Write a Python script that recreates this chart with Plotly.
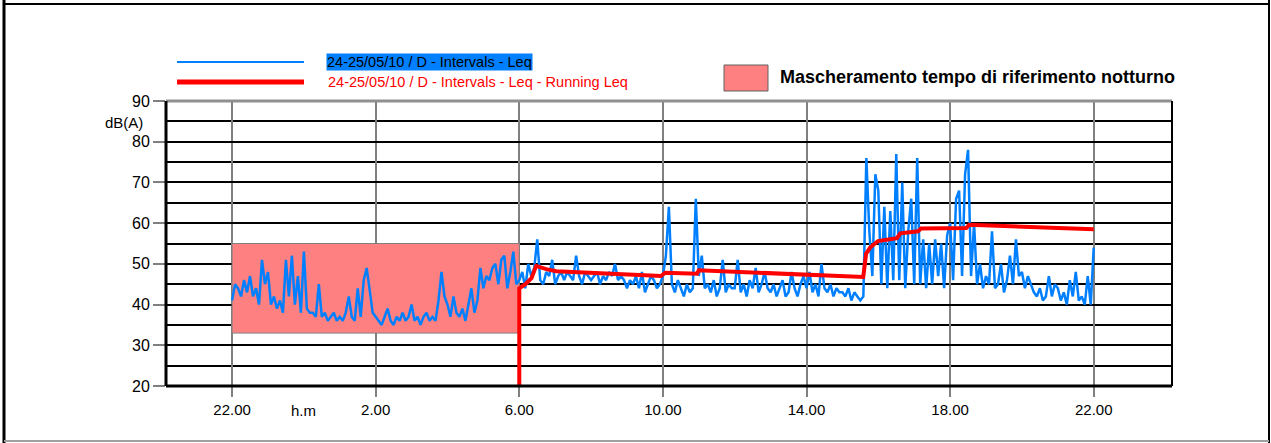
import plotly.graph_objects as go

# Leq every 5 minutes, 22.00 (24/05) -> 22.00 (25/05), one row per hour
leq = [
    41, 45, 44, 42, 46, 43, 47, 42, 44, 40, 51, 45,   # 22-23
    48, 40, 42, 39, 41, 38, 51, 42, 52, 40, 47, 38,   # 23-0
    53, 39, 38, 38, 37, 45, 37, 38, 36, 37, 38, 36,   # 0-1
    37, 36, 38, 42, 37, 36, 44, 37, 46, 49, 44, 38,   # 1-2
    37, 36, 35, 37, 39, 36, 35, 37, 36, 38, 36, 37,   # 2-3
    40, 36, 37, 35, 37, 38, 36, 37, 36, 41, 48, 42,   # 3-4
    40, 37, 42, 38, 37, 39, 36, 40, 44, 38, 41, 49,   # 4-5
    44, 47, 46, 49, 50, 45, 51, 52, 44, 48, 53, 45,   # 5-6
    46, 48, 44, 50, 47, 49, 56, 46, 45, 48, 47, 51,   # 6-7
    45, 47, 48, 46, 48, 47, 46, 52, 47, 45, 48, 47,   # 7-8
    46, 47, 48, 45, 47, 46, 48, 47, 50, 46, 47, 46,   # 8-9
    44, 46, 45, 47, 44, 48, 43, 45, 47, 46, 44, 45,   # 9-10
    47, 52, 64, 45, 43, 46, 44, 42, 45, 43, 44, 66,   # 10-11
    47, 52, 44, 45, 43, 46, 42, 44, 51, 43, 45, 44,   # 11-12
    44, 51, 43, 45, 42, 46, 44, 49, 43, 45, 48, 44,   # 12-13
    43, 45, 42, 44, 46, 42, 43, 48, 44, 42, 45, 47,   # 13-14
    44, 48, 43, 45, 42, 50, 44, 43, 45, 42, 44, 43,   # 14-15
    43, 42, 44, 41, 43, 42, 41, 42, 76, 58, 47, 72,   # 15-16
    68, 45, 64, 44, 63, 46, 77, 46, 70, 44, 58, 66,   # 16-17
    45, 76, 45, 56, 44, 55, 45, 56, 47, 55, 44, 57,   # 17-18
    60, 46, 66, 68, 47, 72, 78, 47, 60, 45, 50, 44,   # 18-19
    47, 45, 58, 44, 45, 50, 43, 46, 52, 45, 56, 47,   # 19-20
    48, 44, 47, 45, 43, 42, 44, 41, 42, 47, 42, 45,   # 20-21
    44, 41, 43, 40, 46, 42, 48, 41, 42, 40, 47, 40,   # 21-22
    54,
]

# running Leq, hours after 22.00
run_h = [8.0, 8.0, 8.17, 8.34, 8.47, 8.75, 9.03, 11.95, 12.06, 12.95, 13.0,
         17.58, 17.66, 17.77, 17.99, 18.52, 18.61, 19.11, 19.19, 20.45, 20.53, 24.0]
run_v = [20, 44, 45, 46.5, 49.5, 48.7, 48.2, 47.0, 47.8, 47.6, 48.4,
         46.8, 52.5, 54, 55.6, 56.3, 57.5, 58, 58.7, 58.8, 59.6, 58.5]

tick_h = [0, 4, 8, 12, 16, 20, 24]
tick_txt = ["22.00", "2.00", "6.00", "10.00", "14.00", "18.00", "22.00"]

leq_h = [i * 5 / 60 for i in range(len(leq))]

W, H = 1271, 443
L, R, T, B = 166, 1172, 101, 386
FONT = "Liberation Sans, Arial, sans-serif"


def px(x):
    return (x - L) / (R - L)


def py(y):
    return (B - y) / (B - T)


fig = go.Figure()
fig.add_trace(go.Scatter(x=leq_h, y=leq, mode="lines",
                         line=dict(color="#0080ff", width=2.5), showlegend=False))
fig.add_trace(go.Scatter(x=run_h, y=run_v, mode="lines",
                         line=dict(color="#ff0000", width=4), showlegend=False))

shapes = [
    # night masking band
    dict(type="rect", xref="x", yref="y", x0=0, x1=8, y0=33, y1=55, layer="between",
         fillcolor="#ff8080", line=dict(color="#808080", width=1)),
    # axes frame
    dict(type="line", xref="paper", yref="paper", x0=0, x1=1, y0=1, y1=1,
         line=dict(color="#909090", width=3)),
    dict(type="line", xref="paper", yref="paper", x0=0, x1=0, y0=0, y1=1,
         line=dict(color="black", width=3)),
    dict(type="line", xref="paper", yref="paper", x0=0, x1=1, y0=0, y1=0,
         line=dict(color="black", width=3)),
    dict(type="line", xref="paper", yref="paper", x0=1, x1=1, y0=0, y1=1,
         line=dict(color="black", width=2)),
    # outer frame
    dict(type="line", xref="paper", yref="paper", x0=px(4), x1=px(4), y0=py(0), y1=py(443),
         line=dict(color="black", width=3)),
    dict(type="line", xref="paper", yref="paper", x0=px(1269), x1=px(1269), y0=py(0), y1=py(443),
         line=dict(color="black", width=2)),
    dict(type="line", xref="paper", yref="paper", x0=px(4), x1=px(1269), y0=py(4), y1=py(4),
         line=dict(color="black", width=2)),
    dict(type="line", xref="paper", yref="paper", x0=px(4), x1=px(1269), y0=py(441), y1=py(441),
         line=dict(color="#a0a0a0", width=2)),
    # legend samples
    dict(type="line", xref="paper", yref="paper", x0=px(177), x1=px(304), y0=py(62), y1=py(62),
         line=dict(color="#0080ff", width=2)),
    dict(type="line", xref="paper", yref="paper", x0=px(177), x1=px(304), y0=py(82), y1=py(82),
         line=dict(color="#ff0000", width=5)),
    dict(type="rect", xref="paper", yref="paper", x0=px(724), x1=px(768), y0=py(91), y1=py(65),
         fillcolor="#ff8080", line=dict(color="#606060", width=1)),
]

annotations = [
    dict(text="24-25/05/10 / D - Intervals - Leq", x=px(326), y=py(62), xref="paper", yref="paper",
         xanchor="left", yanchor="middle", showarrow=False, bgcolor="#0080ff", borderpad=0,
         font=dict(family=FONT, size=14.5, color="black")),
    dict(text="24-25/05/10 / D - Intervals - Leq - Running Leq", x=px(326), y=py(82),
         xref="paper", yref="paper", xanchor="left", yanchor="middle", showarrow=False,
         font=dict(family=FONT, size=14.5, color="#ff0000")),
    dict(text="<b>Mascheramento tempo di riferimento notturno</b>", x=px(778), y=py(77),
         xref="paper", yref="paper", xanchor="left", yanchor="middle", showarrow=False,
         font=dict(family=FONT, size=18, color="black")),
    dict(text="dB(A)", x=px(145), y=py(122), xref="paper", yref="paper",
         xanchor="right", yanchor="middle", showarrow=False,
         font=dict(family=FONT, size=15, color="black")),
    dict(text="h.m", x=px(303), y=py(410), xref="paper", yref="paper",
         xanchor="center", yanchor="middle", showarrow=False,
         font=dict(family=FONT, size=15, color="black")),
]

fig.update_layout(
    width=W, height=H, autosize=False,
    margin=dict(l=L, r=W - R, t=T, b=H - B),
    paper_bgcolor="white", plot_bgcolor="white",
    shapes=shapes, annotations=annotations, showlegend=False,
    font=dict(family=FONT, size=15, color="black"),
)
fig.update_xaxes(range=[-1.84, 26.18], tickmode="array", tickvals=tick_h, ticktext=tick_txt,
                 showgrid=True, gridcolor="#808080", gridwidth=1.5, zeroline=False,
                 ticks="outside", ticklen=10, tickcolor="#808080", tickwidth=1.5,
                 showline=False, tickfont=dict(family=FONT, size=15))
fig.update_yaxes(range=[20, 90], dtick=10, tick0=20, showgrid=True, gridcolor="black", gridwidth=2,
                 minor=dict(dtick=5, tick0=20, showgrid=True, gridcolor="black", gridwidth=2),
                 zeroline=False, ticks="outside", ticklen=12, tickcolor="#808080", tickwidth=1.5,
                 showline=False, tickfont=dict(family=FONT, size=16))

# page body margin would push the figure 8px off its place
fig.write_html("out.html", config={"displayModeBar": False},
               post_script="document.body.style.margin='0';"
                           "document.body.style.overflow='hidden';")
